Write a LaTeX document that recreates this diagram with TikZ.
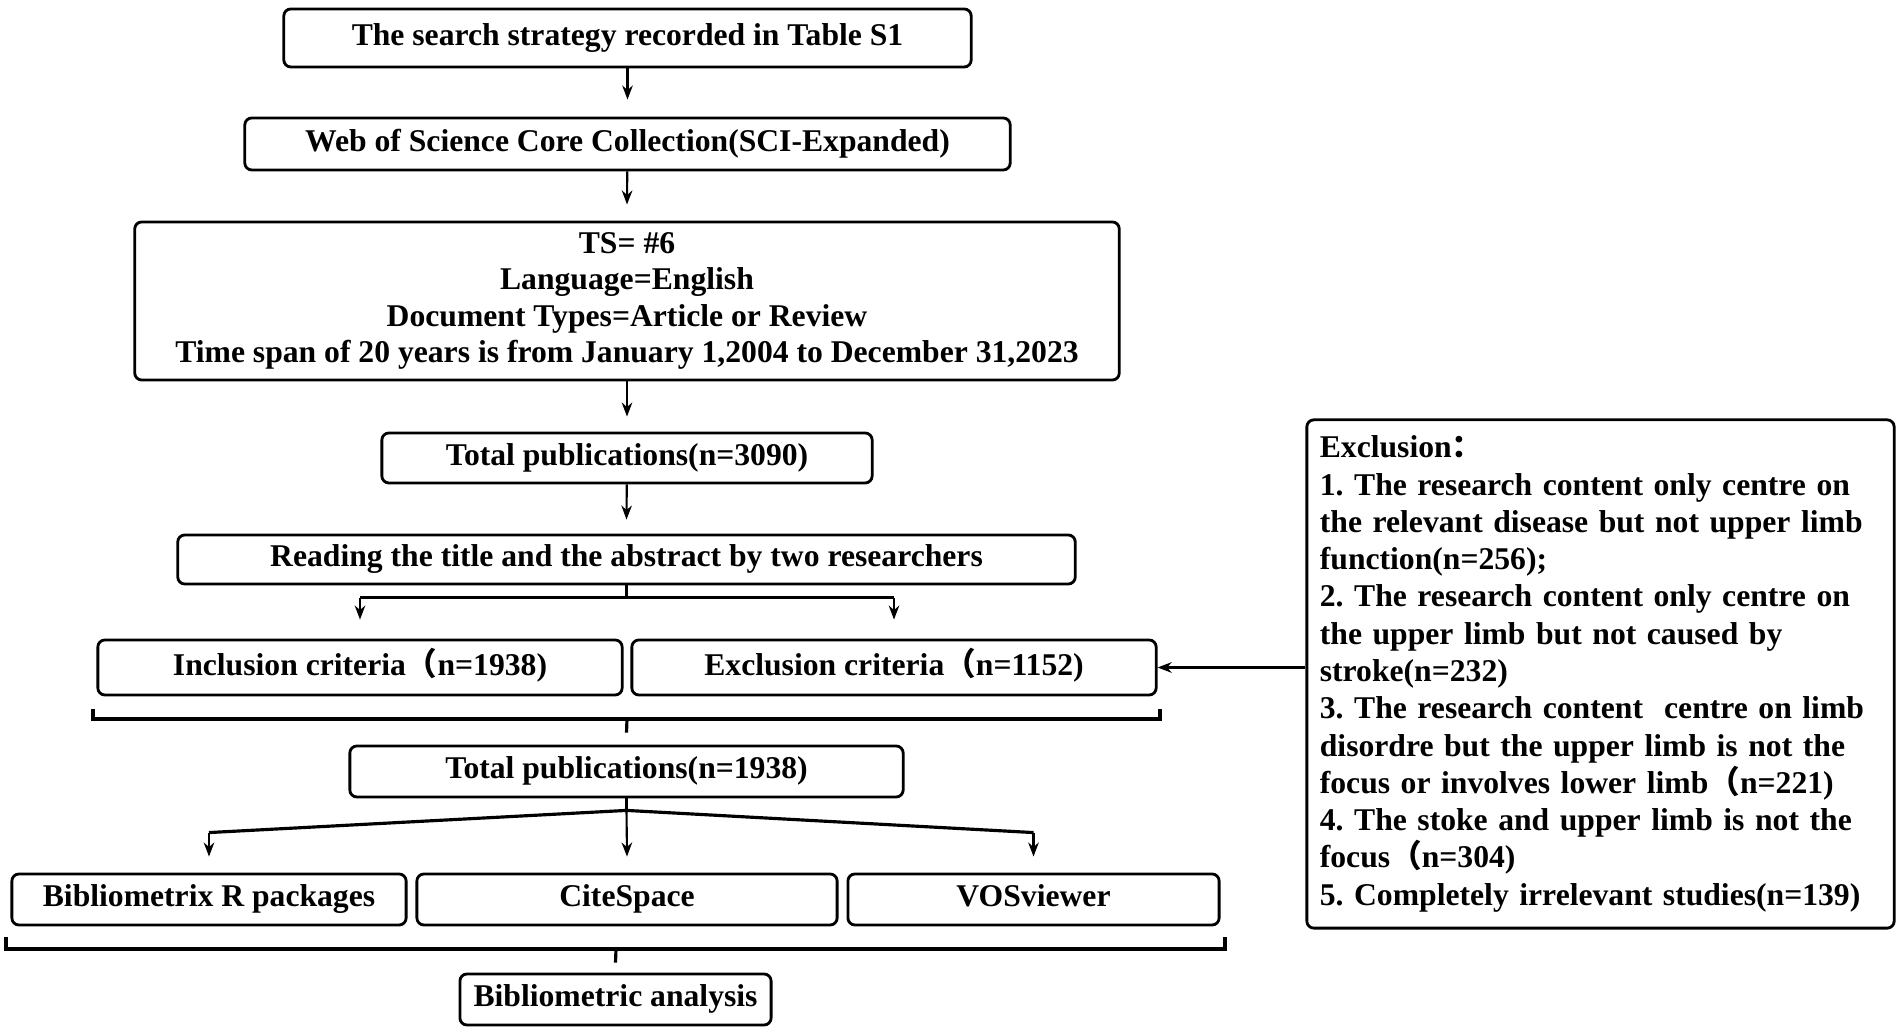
\documentclass[tikz,border=0pt]{standalone}
\usepackage{fontspec}
\setmainfont{Liberation Serif}
\newfontfamily\cjk{Noto Sans CJK SC}
\usetikzlibrary{arrows.meta}
\usetikzlibrary{calc}
\frenchspacing
\newcommand{\fwl}{{\cjk （}}
\newcommand{\fwc}{{\cjk ：}}
\tikzset{
	flowbox/.style={draw, line width=0.8pt, rounded corners=2pt, inner sep=0pt,
		align=center, font=\bfseries\fontsize{9}{10.3}\selectfont},
	flowarrow/.style={line width=0.6pt, -{Stealth[length=4pt,width=3pt]}},
	flowline/.style={line width=0.9pt}
}

\begin{document}
\begin{tikzpicture}[x=0.01cm, y=0.01cm]
	\useasboundingbox (0,0) rectangle (1901,1034);
	% main chain
	\node[flowbox, minimum width=6.87cm, minimum height=0.58cm] (search) at (627.5,996) {\strut The search strategy recorded in Table S1};
	\node[flowbox, minimum width=7.65cm, minimum height=0.52cm] (wos) at (627.5,890) {\strut Web of Science Core Collection(SCI-Expanded)};
	\node[flowbox, minimum width=9.84cm, minimum height=1.58cm] (query) at (627,733) {TS= \#6\\Language=English\\Document Types=Article or Review\\Time span of 20 years is from January 1,2004 to December 31,2023};
	\node[flowbox, minimum width=4.90cm, minimum height=0.50cm] (total) at (627,576) {\strut Total publications(n=3090)};
	\node[flowbox, minimum width=8.97cm, minimum height=0.49cm] (reading) at (626.5,474.5) {\strut Reading the title and the abstract by two researchers};
	
	\node[flowbox, minimum width=5.24cm, minimum height=0.55cm] (incl) at (360,366.5) {\strut Inclusion criteria\fwl n=1938)};
	\node[flowbox, minimum width=5.24cm, minimum height=0.55cm] (excl) at (894,366.5) {\strut Exclusion criteria\fwl n=1152)};
	\node[flowbox, minimum width=5.53cm, minimum height=0.51cm] (final) at (626.5,262.5) {\strut Total publications(n=1938)};
	
	\node[flowbox, minimum width=3.94cm, minimum height=0.51cm] (biblio) at (209,134.5) {\strut Bibliometrix R packages};
	\node[flowbox, minimum width=4.20cm, minimum height=0.51cm] (cite) at (627,134.5) {\strut CiteSpace};
	\node[flowbox, minimum width=3.71cm, minimum height=0.51cm] (vos) at (1033.5,134.5) {\strut VOSviewer};
	\node[flowbox, minimum width=3.11cm, minimum height=0.51cm] (analysis) at (615.5,34.5) {\strut Bibliometric analysis};
	
	% exclusion reasons
	\node[flowbox, minimum width=5.87cm, minimum height=5.08cm, text width=5.61cm, align=left,
		font=\bfseries\fontsize{9}{10.6}\selectfont] (reasons) at (1600.5,360) {Exclusion\fwc\\
		1. The research content only centre on\\
		the relevant disease but not upper limb\\
		function(n=256);\\
		2. The research content only centre on\\
		the upper limb but not caused by\\
		stroke(n=232)\\
		3. The research content~ centre on limb\\
		disordre but the upper limb is not the\\
		focus or involves lower limb\fwl n=221)\\
		4. The stoke and upper limb is not the\\
		focus\fwl n=304)\\
		5. Completely irrelevant studies(n=139)};
	
	% arrows down the chain
	\draw[flowarrow] (search) -- ($(wos.north)+(0,17)$);
	\draw[flowarrow] (wos) -- ($(query.north)+(0,16)$);
	\draw[flowarrow] (query) -- ($(total.north)+(0,15)$);
	\draw[flowarrow] (total) -- ($(reading.north)+(0,14)$);
	
	% split into inclusion and exclusion
	\coordinate (split) at ($(reading.south)+(0,-12.5)$);
	\coordinate (inclTip) at ($(incl.north)+(0,19)$);
	\coordinate (exclTip) at ($(excl.north)+(0,19)$);
	\draw[flowline] (reading.south) -- (split);
	\draw[flowline] (split -| inclTip) -- (split -| exclTip);
	\draw[flowarrow] (split -| inclTip) -- (inclTip);
	\draw[flowarrow] (split -| exclTip) -- (exclTip);
	\draw[flowarrow, line width=0.9pt] (reasons.west |- excl.east) -- (excl.east);
	
	% bracket joining the criteria
	\coordinate (joinA) at (627,315);
	\draw[flowline] (93,325) -- (93,315) -- (1160,315) -- (1160,325);
	\draw[flowline] (joinA) -- ($(final.north)+(0,12)$);
	
	% fan out to the three tools
	\coordinate (fan) at ($(final.south)+(0,-12)$);
	\coordinate (biblioTip) at ($(biblio.north)+(0,16)$);
	\coordinate (citeTip) at ($(cite.north)+(0,16)$);
	\coordinate (vosTip) at ($(vos.north)+(0,16)$);
	\draw[flowline] (final.south) -- (fan);
	\draw[flowline] (fan) -- ($(biblioTip)+(0,24)$);
	\draw[flowline] (fan) -- ($(vosTip)+(0,24)$);
	\draw[flowarrow] ($(biblioTip)+(0,24)$) -- (biblioTip);
	\draw[flowarrow] ($(vosTip)+(0,24)$) -- (vosTip);
	\draw[flowarrow] (fan) -- (citeTip);
	
	% bracket joining the tools
	\draw[flowline] (6,97) -- (6,85) -- (1225,85) -- (1225,97);
	\draw[flowline] (616,85) -- ($(analysis.north)+(0,10)$);
\end{tikzpicture}
\end{document}
